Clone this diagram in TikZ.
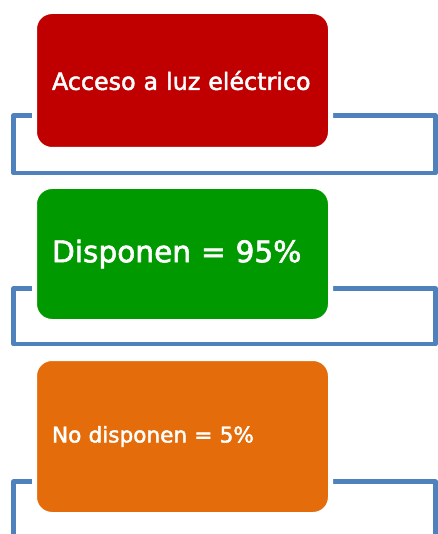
\documentclass[tikz,border=0pt]{standalone}
\usepackage{fontspec}
\setmainfont{DejaVu Sans}[RawFeature={embolden=2}]
\usetikzlibrary{positioning, backgrounds}
\definecolor{accesscol}{HTML}{C00000}
\definecolor{yescol}{HTML}{009A00}
\definecolor{nocol}{HTML}{E46C0A}
\definecolor{linkcol}{HTML}{4F81BD}

\begin{document}
\begin{tikzpicture}[
    x=1pt, y=-1pt,
    box/.style={draw=white, line width=5pt, rounded corners=17.5pt, outer sep=0pt,
        minimum width=296pt, text width=261pt, inner xsep=17.5pt, align=left, text=white},
    link/.style={draw=linkcol, line width=4.5pt, line join=round},
]
\useasboundingbox (0,0) rectangle (437,534);

% ============================================================
%  Boxes
% ============================================================
\node[box, fill=accesscol, minimum height=138pt, font=\fontsize{23.8}{28}\selectfont] 
    (acceso) at (182.5, 80.5) {Acceso a luz eléctrico};

\node[box, fill=yescol, minimum height=135pt, font=\fontsize{29.6}{34}\selectfont, below=37pt of acceso] 
    (disponen) {Disponen = 95\%};

\node[box, fill=nocol, minimum height=156pt, font=\fontsize{21.6}{26}\selectfont, below=37pt of disponen] 
    (nodisp) {No disponen = 5\%};

% ============================================================
%  Bent connectors (under the boxes)
% ============================================================
\def\xl{13.5}
\def\xr{435.5}

\coordinate (lvlA) at (0, 115.5);
\coordinate (lvlB) at (0, 288.3);
\coordinate (lvlC) at (0, 481.7);
\coordinate (endR) at (\xr, 560);
\coordinate (endL) at (\xl, 560);

\begin{scope}[on background layer]
\draw[link] (acceso.east |- lvlA) -- (\xr, 115.5) |- (\xl, 173) |- (acceso.west |- lvlA);
\draw[link] (disponen.east |- lvlB) -- (\xr, 288.3) |- (\xl, 344) |- (disponen.west |- lvlB);
\draw[link] (nodisp.east |- lvlC) -- (\xr, 481.7) -- (endR);
\draw[link] (endL) -- (\xl, 481.7) -- (nodisp.west |- lvlC);
\end{scope}

\end{tikzpicture}
\end{document}
